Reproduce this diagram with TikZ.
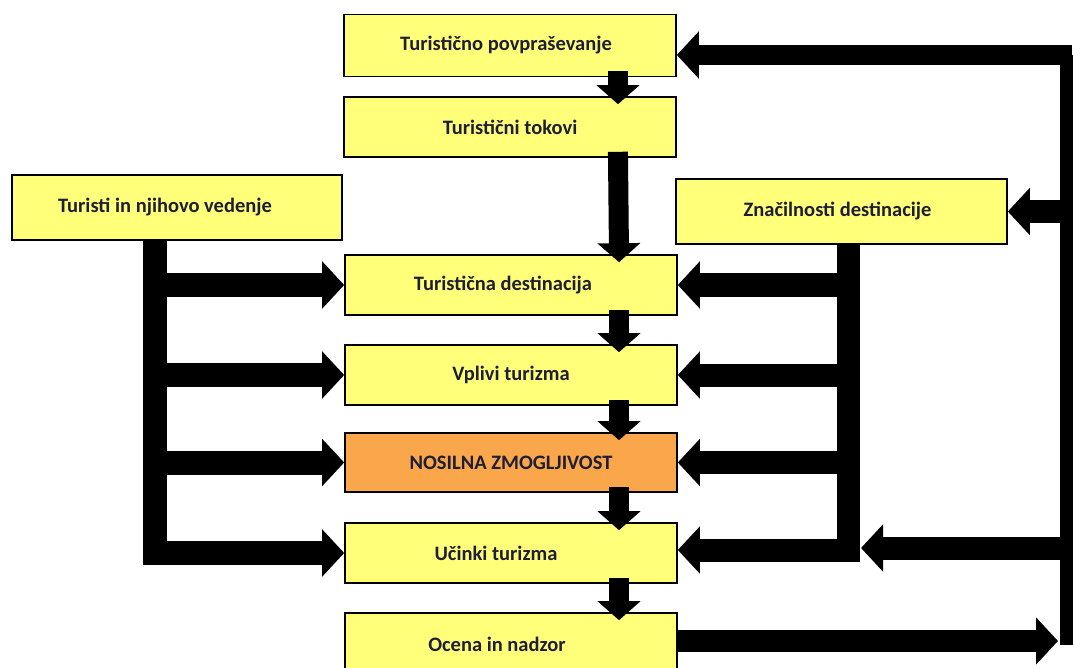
\documentclass[tikz,border=0pt]{standalone}
\usepackage{fontspec}
\setmainfont{Carlito}
\usepackage{tikz}
\usetikzlibrary{arrows.meta}
\definecolor{boxyellow}{RGB}{255,255,122}
\definecolor{boxorange}{RGB}{250,166,74}
\definecolor{textnavy}{RGB}{30,30,55}
\tikzset{box/.style={draw=black,line width=1.6pt,fill=boxyellow,minimum width=332pt,minimum height=62pt,inner sep=0pt,text=textnavy,font=\fontsize{20.5}{24}\selectfont\bfseries}}
\tikzset{fat/.style={line width=23pt,-{Triangle[length=22pt,width=46pt]},line join=miter}}
\tikzset{down/.style={line width=20pt,-{Triangle[length=19pt,width=42pt]}}}
\tikzset{bar/.style={line width=24pt}}

\begin{document}
\begin{tikzpicture}[x=1pt, y=-1pt]
\useasboundingbox (0,0) rectangle (1073,668);

% srednji stolpec
\node [box] (povp) at (510,45.5) {Turistično povpraševanje\hspace*{8pt}};
\node [box, minimum height=60pt] (tokovi) at (510,127) {Turistični tokovi};
\node [box, minimum height=60pt] (dest) at (511,285) {Turistična destinacija\hspace*{16pt}};
\node [box, minimum height=60pt] (vplivi) at (511,375) {Vplivi turizma};
\node [box, minimum height=59pt, fill=boxorange] (nosilna) at (511,462.5) {NOSILNA ZMOGLJIVOST};
\node [box, minimum height=60pt] (ucinki) at (511,553) {Učinki turizma\hspace*{30pt}};
\node [box] (ocena) at (511,644) {Ocena in nadzor\hspace*{28pt}};

% stranska okvirja
\node [box, minimum width=330pt, minimum height=65pt] (turisti) at (177,207.5) {Turisti in njihovo vedenje\hspace*{24pt}};
\node [box, minimum width=331pt, minimum height=65pt] (znacilnosti) at (841.5,211.5) {Značilnosti destinacije\hspace*{8pt}};

\coordinate (lbar) at (155,0);
\coordinate (rbar) at (848.5,0);
\coordinate (fbar) at (1072,0);
\coordinate (rjoin) at (861,548);
\coordinate (fjoin) at (1058,641);

% puščice navzdol
\foreach \a/\b in {povp/tokovi,tokovi/dest,dest/vplivi,vplivi/nosilna,nosilna/ucinki,ucinki/ocena}
  \draw [down, shorten >=-8pt, shorten <=-6pt] ([xshift=108pt]\a.south) -- ([xshift=108pt]\b.north);

% levo
\draw [fat, line width=24pt] (lbar |- turisti.south) -- (lbar |- ucinki.west) -- (ucinki.west);
\foreach \n in {dest,vplivi,nosilna}
  \draw [fat, line width=24pt] (lbar |- \n.west) -- (\n.west);

% desno
\draw [fat] (rbar |- znacilnosti.south) -- ([yshift=3pt]rbar |- ucinki.east) -- ([yshift=3pt]ucinki.east);
\foreach \n in {dest,vplivi,nosilna}
  \draw [fat] (rbar |- \n.east) -- (\n.east);

% povratna zanka
\draw [bar] (fbar |- fjoin) ++(0,4) -- ([yshift=-9.5pt]fbar |- povp.east);
\draw [fat, line width=20pt] ([yshift=-9.5pt]fbar |- povp.east) -- ([yshift=-9.5pt]povp.east);
\draw [fat] (fbar |- znacilnosti.east) -- (znacilnosti.east);
\draw [fat] (fbar |- rjoin) -- (rjoin);
\draw [fat, line width=22pt] (ocena.east |- fjoin) -- (fjoin);

\end{tikzpicture}
\end{document}
